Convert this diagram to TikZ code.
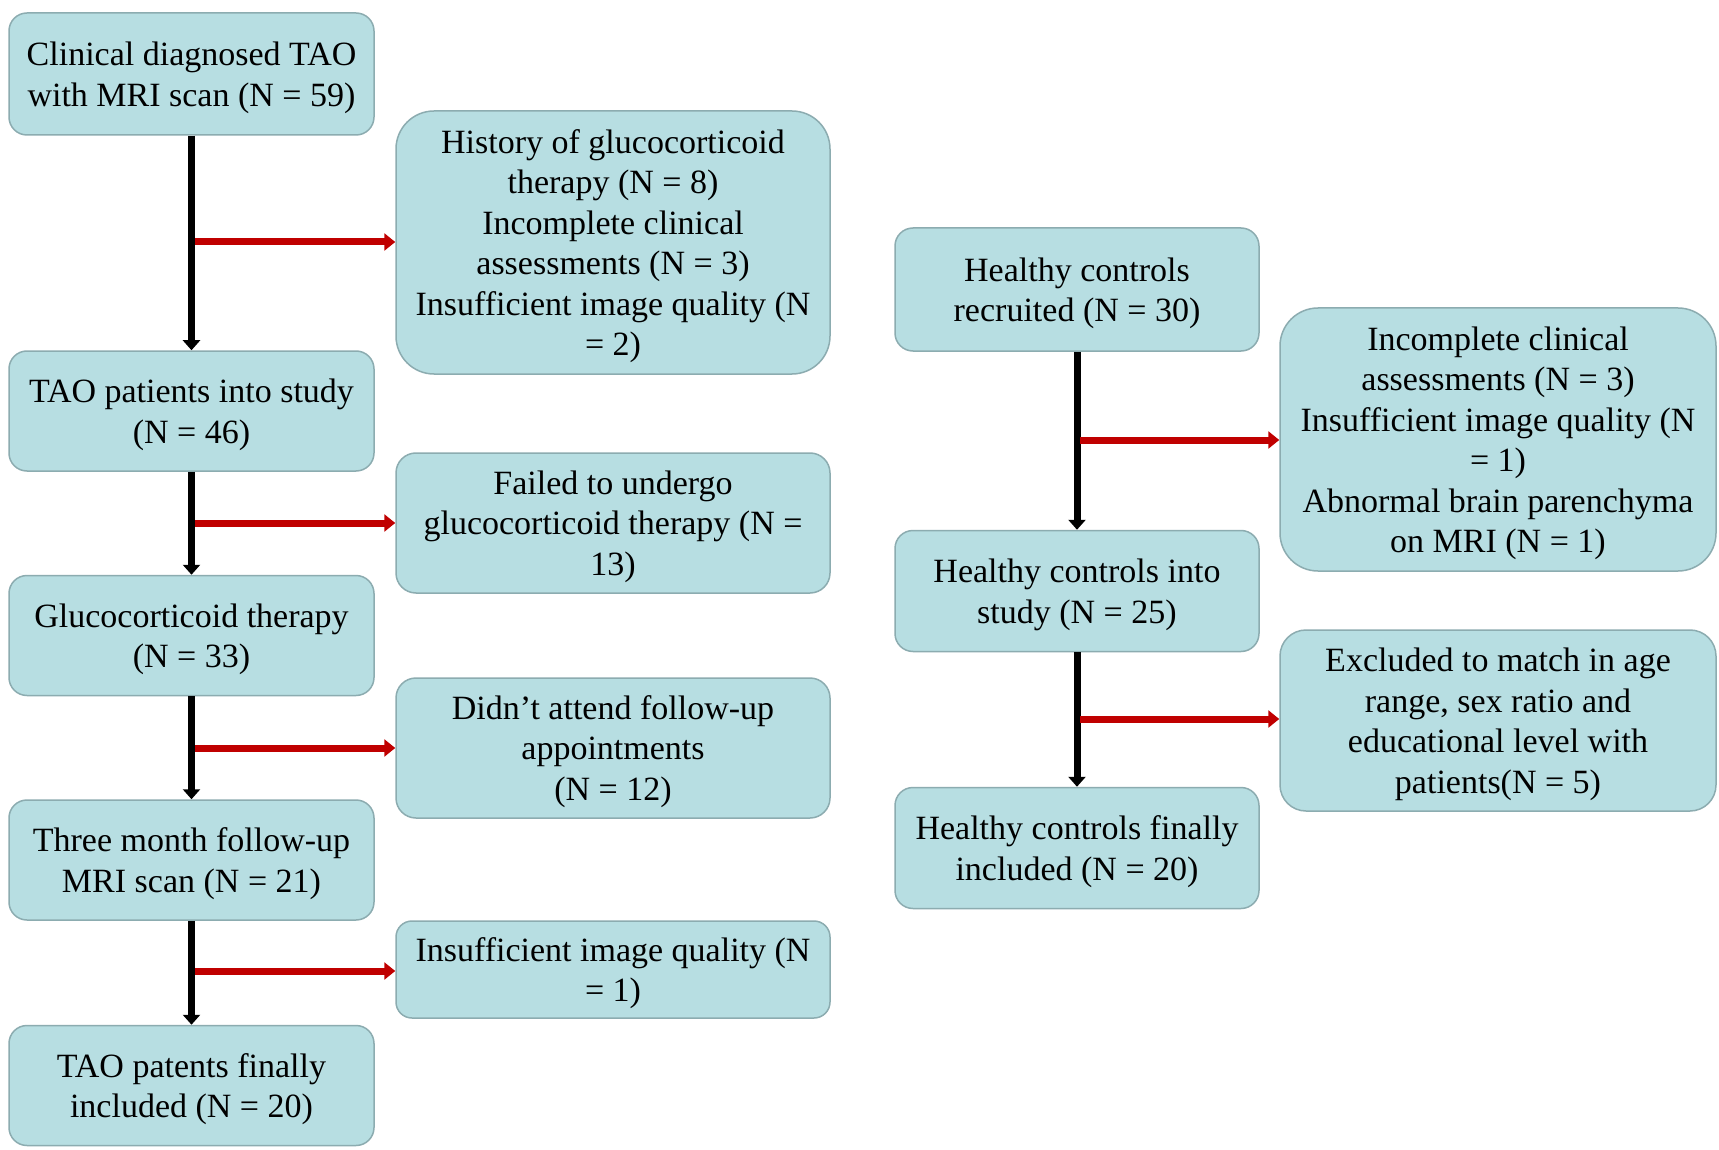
\documentclass[tikz,border=0pt]{standalone}
\usepackage{fontspec}
\setmainfont{Liberation Serif}
\usetikzlibrary{arrows.meta}
\definecolor{fillcol}{RGB}{183,222,226}
\definecolor{bordercol}{RGB}{140,172,176}
\definecolor{redarr}{RGB}{192,0,0}
\newcommand\toppad{\rule{0pt}{31pt}}
\tikzset{
  box/.style={draw=bordercol, line width=1.5pt, fill=fillcol, rounded corners=18pt,
    align=center, inner sep=0pt, font=\fontsize{34}{40.5}\selectfont},
  lbox/.style={box, minimum width=365pt, minimum height=120pt},
  ebox/.style={box, minimum width=434pt},
  hbox/.style={box, minimum width=364pt, minimum height=121pt},
  rbox/.style={box, minimum width=436pt},
  blackarr/.style={line width=7pt, black, -{Triangle[width=17pt,length=10pt]}},
  redarrow/.style={line width=7pt, redarr, -{Triangle[width=17pt,length=11pt]}},
}
\begin{document}
\begin{tikzpicture}[x=1pt,y=-1pt]
\useasboundingbox[fill=white] (0,0) rectangle (1719,1150);
% left column
\node[lbox, minimum height=122pt] (b1) at (191.5,74) {\toppad Clinical diagnosed TAO\\with MRI scan (N = 59)};
\node[lbox] (b2) at (191.5,411) {\toppad TAO patients into study\\(N = 46)};
\node[lbox] (b3) at (191.5,635.5) {\toppad Glucocorticoid therapy\\(N = 33)};
\node[lbox] (b4) at (191.5,860) {\toppad Three month follow-up\\MRI scan (N = 21)};
\node[lbox] (b5) at (191.5,1085.5) {\toppad TAO patents finally\\included (N = 20)};
% exclusions left
\node[ebox, minimum height=263pt, rounded corners=38pt] (e1) at (613,242.5) {\toppad History of glucocorticoid\\therapy (N = 8)\\Incomplete clinical\\assessments (N = 3)\\Insufficient image quality (N\\= 2)};
\node[ebox, minimum height=140pt, rounded corners=20pt] (e2) at (613,523) {\toppad Failed to undergo\\glucocorticoid therapy (N =\\13)};
\node[ebox, minimum height=140pt, rounded corners=20pt] (e3) at (613,748) {\toppad Didn't attend follow-up\\appointments\\(N = 12)};
\node[ebox, minimum height=97pt, rounded corners=16pt] (e4) at (613,969.5) {\toppad Insufficient image quality (N\\= 1)};
% right column
\node[hbox, minimum height=123pt] (h1) at (1077,289.5) {\toppad Healthy controls\\recruited (N = 30)};
\node[hbox] (h2) at (1077,591) {\toppad Healthy controls into\\study (N = 25)};
\node[hbox] (h3) at (1077,848) {\toppad Healthy controls finally\\included (N = 20)};
\node[rbox, minimum height=263pt, rounded corners=38pt] (r1) at (1498,439.5) {\toppad Incomplete clinical\\assessments (N = 3)\\Insufficient image quality (N\\= 1)\\Abnormal brain parenchyma\\on MRI (N = 1)};
\node[rbox, minimum height=181pt, rounded corners=26pt] (r2) at (1498,720.5) {\toppad Excluded to match in age\\range, sex ratio and\\educational level with\\patients(N = 5)};
% black arrows
\draw[blackarr] (b1.south) -- (b2.north);
\draw[blackarr] (b2.south) -- (b3.north);
\draw[blackarr] (b3.south) -- (b4.north);
\draw[blackarr] (b4.south) -- (b5.north);
\draw[blackarr] (h1.south) -- (h2.north);
\draw[blackarr] (h2.south) -- (h3.north);
% red arrows
\coordinate (c1) at (195,242);
\coordinate (c2) at (195,523);
\coordinate (c3) at (195,748);
\coordinate (c4) at (195,971);
\coordinate (c5) at (1080,440);
\coordinate (c6) at (1080,719);
\draw[redarrow] (c1) -- (e1.west |- c1);
\draw[redarrow] (c2) -- (e2.west |- c2);
\draw[redarrow] (c3) -- (e3.west |- c3);
\draw[redarrow] (c4) -- (e4.west |- c4);
\draw[redarrow] (c5) -- (r1.west |- c5);
\draw[redarrow] (c6) -- (r2.west |- c6);
\end{tikzpicture}
\end{document}
